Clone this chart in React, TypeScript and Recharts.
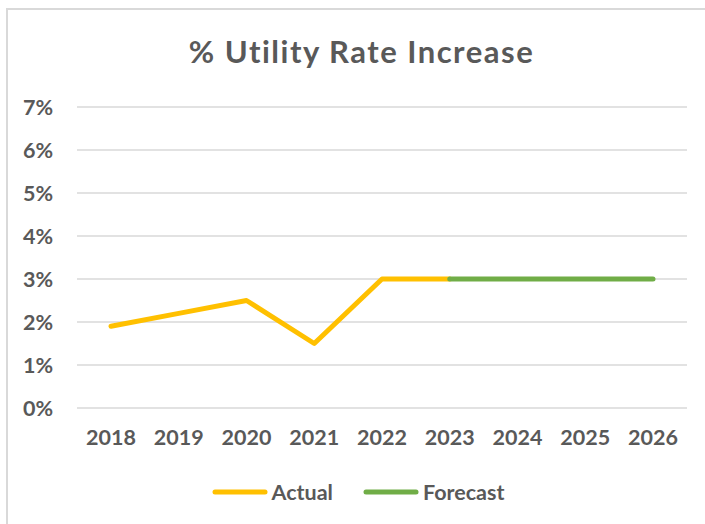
import { LineChart, Line, XAxis, YAxis, CartesianGrid, Legend } from "recharts";

// categories + series values
const years = ["2018", "2019", "2020", "2021", "2022", "2023", "2024", "2025", "2026"];
const actual = [1.9, 2.2, 2.5, 1.5, 3.0, 3.0, null, null, null];
const forecast = [null, null, null, null, null, 3.0, 3.0, 3.0, 3.0];
const yTicks = [0, 1, 2, 3, 4, 5, 6, 7];

const data = years.map((year, i) => ({
  year,
  actual: actual[i],
  forecast: forecast[i],
}));

const FONT = "Lato, 'Open Sans', sans-serif";
const TEXT = "#595959";
const TICK_SIZE = 21.5;

const renderLegend = (props: any) => {
  const { payload } = props;
  return (
    <div style={{ display: "flex", justifyContent: "center", alignItems: "center", gap: 30 }}>
      {payload.map((entry: any) => (
        <div key={entry.value} style={{ display: "flex", alignItems: "center", gap: 4 }}>
          <svg width={56} height={10}>
            <line x1={3} y1={5} x2={53} y2={5} stroke={entry.color} strokeWidth={5} strokeLinecap="round" />
          </svg>
          <span style={{ fontFamily: FONT, fontWeight: 700, fontSize: TICK_SIZE, color: TEXT, lineHeight: "24px" }}>
            {entry.value}
          </span>
        </div>
      ))}
    </div>
  );
};

export default function App() {
  return (
    <>
      <style>{"body{margin:0;overflow:hidden;background:#fff}"}</style>
      <div
        style={{
          position: "absolute",
          left: 6,
          top: 8,
          width: 702,
          height: 520,
          borderTop: "2px solid #D9D9D9",
          borderLeft: "2px solid #D9D9D9",
        }}
      >
        <div
          style={{
            position: "absolute",
            left: 0,
            width: 704,
            paddingLeft: 1.5,
            top: 25.5,
            textAlign: "center",
            fontFamily: FONT,
            fontWeight: 700,
            fontSize: 31,
            letterSpacing: 1.5,
            lineHeight: "31px",
            color: TEXT,
          }}
        >
          % Utility Rate Increase
        </div>
        <LineChart width={700} height={514} data={data} margin={{ top: 97, right: 21, left: 0, bottom: 76 }}>
          <CartesianGrid vertical={false} stroke="#D9D9D9" strokeWidth={1.5} />
          <XAxis
            dataKey="year"
            axisLine={false}
            tickLine={false}
            height={40}
            tickMargin={16}
            padding={{ left: 34, right: 34 }}
            tick={{ fill: TEXT, fontSize: TICK_SIZE, fontWeight: 700, fontFamily: FONT }}
          />
          <YAxis
            width={69}
            domain={[0, 7]}
            ticks={yTicks}
            axisLine={false}
            tickLine={false}
            tickMargin={18}
            tickFormatter={(v: number) => `${v}%`}
            tick={{ fill: TEXT, fontSize: TICK_SIZE, fontWeight: 700, fontFamily: FONT }}
          />
          <Legend
            layout="horizontal"
            verticalAlign="middle"
            align="center"
            content={renderLegend}
            wrapperStyle={{ top: 470, left: 0, width: 700 }}
          />
          <Line
            name="Actual"
            dataKey="actual"
            stroke="#FFC000"
            strokeWidth={5}
            strokeLinecap="round"
            strokeLinejoin="round"
            dot={false}
            activeDot={false}
            isAnimationActive={false}
          />
          <Line
            name="Forecast"
            dataKey="forecast"
            stroke="#70AD47"
            strokeWidth={5}
            strokeLinecap="round"
            strokeLinejoin="round"
            dot={false}
            activeDot={false}
            isAnimationActive={false}
          />
        </LineChart>
      </div>
    </>
  );
}
